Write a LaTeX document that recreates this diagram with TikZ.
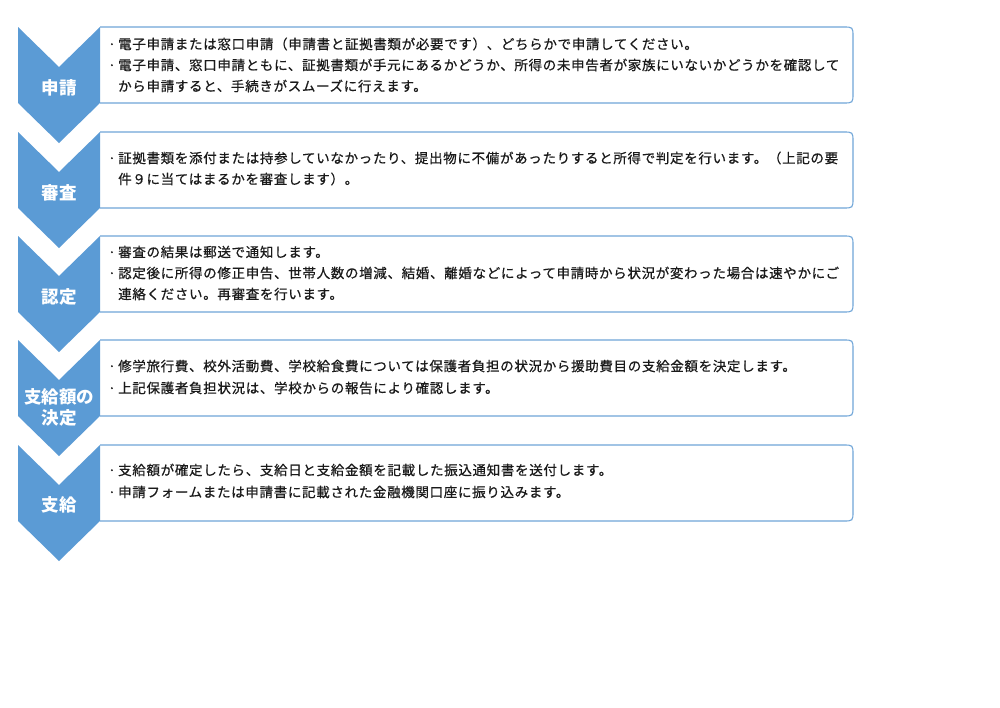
\documentclass[tikz,border=0pt]{standalone}
\usepackage{fontspec}
\newfontfamily\jp{Noto Sans CJK JP}[LetterSpace=5,FakeBold=0.6]
\newfontfamily\jplabel{Noto Sans CJK JP}
\definecolor{chev}{HTML}{5B9BD5}
\definecolor{boxl}{HTML}{6FA5D8}
\definecolor{txt}{HTML}{1A1A1A}
\tikzset{
  boxline/.style={draw=boxl, line width=1.1pt},
  chevfill/.style={fill=chev},
  lab/.style={inner sep=0pt, text=white, align=center, font=\jplabel\bfseries\fontsize{17.5}{21}\selectfont},
  txtline/.style={anchor=west, inner sep=0pt, text=txt, font=\jp\fontsize{13.5}{16}\selectfont},
}
\newcommand\chevbox[1]{%
  \draw[boxline] (100,#1) -- (843,#1) .. controls (853,#1) .. (853,#1+10) -- (853,#1+66) .. controls (853,#1+76) .. (843,#1+76) -- (100,#1+76);
  \fill[chevfill] (18,#1) -- (59,#1+40) -- (100,#1) -- (100,#1+76) -- (59,#1+116) -- (18,#1+76) -- cycle;
}
\newcommand\bul{\makebox[10pt][l]{·}}
\begin{document}
\begin{tikzpicture}[x=1pt,y=-1pt]
\fill[white] (0,0) rectangle (1000,707);
\useasboundingbox (0,0) rectangle (1000,707);

\chevbox{27}
\chevbox{132}
\chevbox{236}
\chevbox{340}
\chevbox{445}

\node[lab] (l1) at (59,88) {申請};
\node[lab] (l2) at (59,193) {審査};
\node[lab] (l3) at (59,297) {認定};
\node[lab] (l4) at (59,407) {支給額の\\決定};
\node[lab] (l5) at (59,505) {支給};

\node[txtline] (t11) at (108,44) {\bul 電子申請または窓口申請（申請書と証拠書類が必要です）、どちらかで申請してください。};
\node[txtline] (t12) at (108,65) {\bul 電子申請、窓口申請ともに、証拠書類が手元にあるかどうか、所得の未申告者が家族にいないかどうかを確認して};
\node[txtline] (t13) at (118,86) {から申請すると、手続きがスムーズに行えます。};

\node[txtline] (t21) at (108,158) {\bul 証拠書類を添付または持参していなかったり、提出物に不備があったりすると所得で判定を行います。（上記の要};
\node[txtline] (t22) at (118,179) {件９に当てはまるかを審査します）。};

\node[txtline] (t31) at (108,252) {\bul 審査の結果は郵送で通知します。};
\node[txtline] (t32) at (108,273) {\bul 認定後に所得の修正申告、世帯人数の増減、結婚、離婚などによって申請時から状況が変わった場合は速やかにご};
\node[txtline] (t33) at (118,294) {連絡ください。再審査を行います。};

\node[txtline] (t41) at (108,366) {\bul 修学旅行費、校外活動費、学校給食費については保護者負担の状況から援助費目の支給金額を決定します。};
\node[txtline] (t42) at (108,388) {\bul 上記保護者負担状況は、学校からの報告により確認します。};

\node[txtline] (t51) at (108,470) {\bul 支給額が確定したら、支給日と支給金額を記載した振込通知書を送付します。};
\node[txtline] (t52) at (108,492) {\bul 申請フォームまたは申請書に記載された金融機関口座に振り込みます。};
\end{tikzpicture}
\end{document}
